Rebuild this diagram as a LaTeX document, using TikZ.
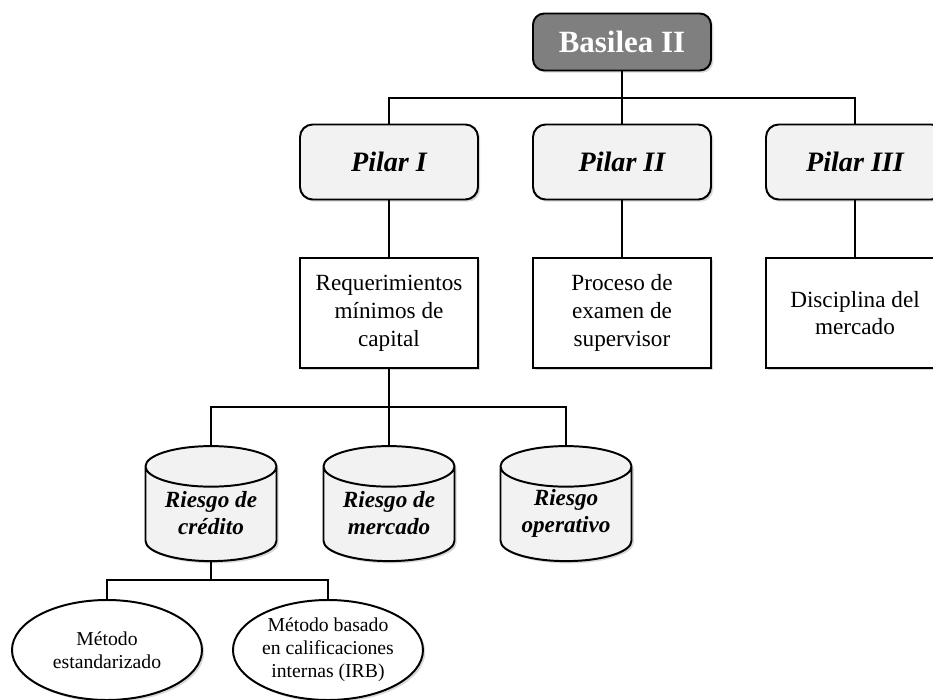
\documentclass[tikz,border=0pt]{standalone}
\usepackage{fontspec}
\setmainfont{Liberation Serif}
\usetikzlibrary{positioning,shapes.geometric,shadows}
\definecolor{pilargray}{RGB}{242,242,242}
\definecolor{topgray}{RGB}{127,127,127}

\tikzset{
  base/.style={draw, line width=1.4pt, align=center,
    drop shadow={shadow xshift=1.6pt, shadow yshift=-1.6pt, opacity=0.3}},
  topbox/.style={base, rounded corners=8pt, fill=topgray, text=white,
    minimum width=4.45cm, minimum height=1.425cm,
    font=\fontsize{22}{26}\selectfont\bfseries},
  pilarbox/.style={base, rounded corners=9pt, fill=pilargray,
    minimum width=4.45cm, minimum height=1.875cm,
    font=\fontsize{20}{24}\selectfont\bfseries\itshape},
  descbox/.style={base, fill=white, minimum width=4.45cm, minimum height=2.75cm,
    font=\fontsize{16.5}{19.8}\selectfont},
  riskcyl/.style={base, cylinder, shape border rotate=90, aspect=0.4,
    text width=2.3cm, fill=pilargray, minimum width=3.275cm, minimum height=2.875cm},
  risktext/.style={align=center, yshift=0.12cm,
    font=\fontsize{16.5}{19.5}\selectfont\bfseries\itshape},
  metodo/.style={base, ellipse, fill=white, inner sep=0pt,
    minimum width=4.75cm, minimum height=2.5cm,
    font=\fontsize{14}{16.5}\selectfont},
  bus/.style={line width=1.4pt}
}

\begin{document}
\begin{tikzpicture}[node distance=3cm, on grid]
\clip (-15.55,-16.45) rectangle (7.775,1.05);
\fill[white] (-15.55,-16.45) rectangle (7.775,1.05);

\node[topbox] (basilea) {Basilea II};
\node[pilarbox] (pilar2) [below=of basilea] {Pilar II};
\node[pilarbox] (pilar1) [left=5.825cm of pilar2] {Pilar I};
\node[pilarbox] (pilar3) [right=5.825cm of pilar2] {Pilar III};

\node[descbox] (req) [below=3.775cm of pilar1] {Requerimientos\\mínimos de\\capital};
\node[descbox] (proceso) [below=3.775cm of pilar2] {Proceso de\\examen de\\supervisor};
\node[descbox] (disciplina) [below=3.775cm of pilar3] {Disciplina del\\mercado};

\node[riskcyl] (mercado) [below=5.125cm of req,
  label={[risktext]center:Riesgo de\\mercado}] {};
\node[riskcyl] (credito) [left=4.45cm of mercado,
  label={[risktext]center:Riesgo de\\crédito}] {};
\node[riskcyl] (operativo) [right=4.425cm of mercado,
  label={[risktext]center:Riesgo\\operativo}] {};

\node[metodo] (estandar) [below left=3.3cm and 2.6cm of credito] {Método\\estandarizado};
\node[metodo] (irb) [below right=3.3cm and 2.925cm of credito] {Método basado\\en calificaciones\\internas (IRB)};

% lineas de la jerarquia
\draw[bus] (basilea.south) -- ++(0,-0.675) coordinate (b1);
\draw[bus] (pilar1.north) |- (b1) -| (pilar3.north);
\draw[bus] (b1) -- (pilar2.north);

\draw[bus] (pilar1) -- (req);
\draw[bus] (pilar2) -- (proceso);
\draw[bus] (pilar3) -- (disciplina);

\draw[bus] (req.south) -- ++(0,-0.95) coordinate (b2);
\draw[bus] (credito.north) |- (b2) -| (operativo.north);
\draw[bus] (b2) -- (mercado.north);

\draw[bus] (credito.south) -- ++(0,-0.45) coordinate (b3);
\draw[bus] (estandar.north) |- (b3) -| (irb.north);
\end{tikzpicture}
\end{document}
